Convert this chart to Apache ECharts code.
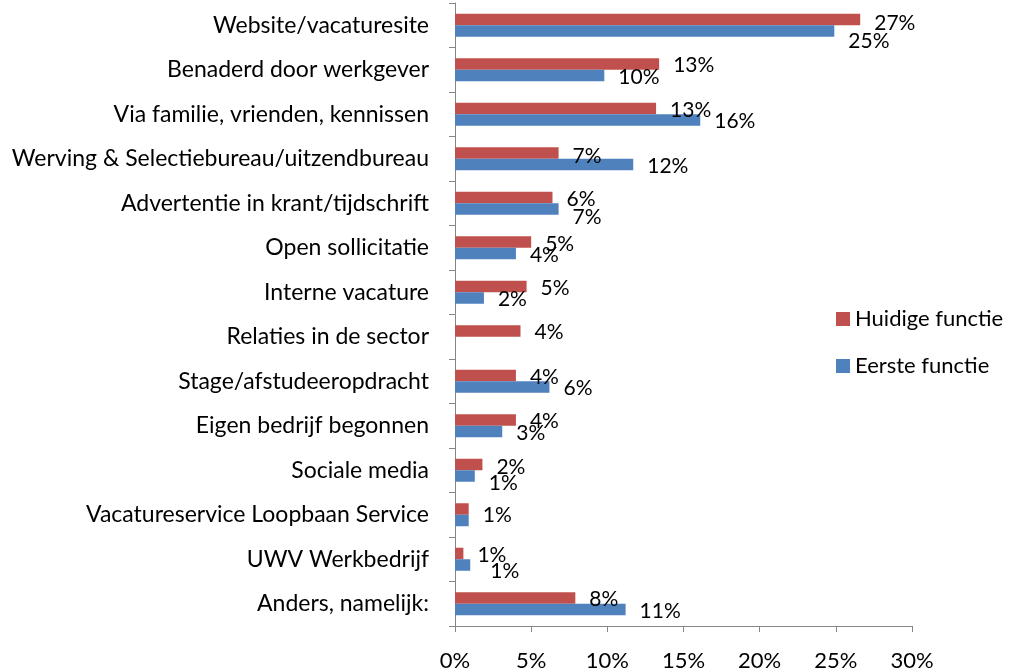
<!DOCTYPE html>
<html>
<head>
<meta charset="utf-8">
<script src="https://cdn.jsdelivr.net/npm/echarts@6/dist/echarts.min.js"></script>
<style>
html,body{margin:0;padding:0;background:#fff;}
#chart{width:1010px;height:672px;}
</style>
</head>
<body>
<div id="chart"></div>
<script>
var categories = [
  'Website/vacaturesite',
  'Benaderd door werkgever',
  'Via familie, vrienden, kennissen',
  'Werving & Selectiebureau/uitzendbureau',
  'Advertentie in krant/tijdschrift',
  'Open sollicitatie',
  'Interne vacature',
  'Relaties in de sector',
  'Stage/afstudeeropdracht',
  'Eigen bedrijf begonnen',
  'Sociale media',
  'Vacatureservice Loopbaan Service',
  'UWV Werkbedrijf',
  'Anders, namelijk:'
];
var seriesNames = ['Huidige functie', 'Eerste functie'];
var huidige = [26.6, 13.4, 13.2, 6.8, 6.4, 5.0, 4.7, 4.3, 4.0, 4.0, 1.8, 0.9, 0.55, 7.9];
var eerste  = [24.9, 9.8, 16.1, 11.7, 6.8, 4.0, 1.9, 0, 6.2, 3.1, 1.3, 0.9, 1.0, 11.2];
var xTicks = [0, 5, 10, 15, 20, 25, 30];

// label nudges (styling only): [dx, dy] per category index
var nudgeRed = {0:[0,3.5], 3:[0,3], 5:[0,2.5], 10:[0,2.5], 11:[0,7]};
var nudgeBlue = {0:[0,10], 4:[0,8], 10:[0,7], 11:[0,-5.5], 12:[6,6]};
var hideRed = {11: true};

var FONT = 'Lato';
var colors = ['#C0504D', '#4F81BD'];

function build(vals, nudge, hide) {
  return vals.map(function (v, i) {
    var off = nudge[i] || [0, 1.5];
    return { value: v, label: { show: v > 0 && !(hide && hide[i]), offset: off } };
  });
}

var chart = echarts.init(document.getElementById('chart'), null, {renderer: 'canvas'});
var labelStyle = {
  show: true,
  position: 'right',
  distance: 14,
  fontFamily: FONT,
  fontSize: 21,
  color: '#000',
  formatter: function (p) { return Math.round(p.value) + '%'; }
};
chart.setOption({
  animation: false,
  backgroundColor: '#fff',
  textStyle: { fontFamily: FONT },
  grid: { left: 455, right: 98, top: 3, bottom: 43, containLabel: false },
  legend: {
    orient: 'vertical',
    left: 831,
    top: 302,
    itemWidth: 14,
    itemHeight: 14,
    itemGap: 23,
    icon: 'rect',
    data: seriesNames,
    textStyle: { fontFamily: FONT, fontSize: 22, color: '#000', lineHeight: 24 }
  },
  xAxis: {
    type: 'value',
    min: xTicks[0],
    max: xTicks[xTicks.length - 1],
    interval: xTicks[1] - xTicks[0],
    axisLine: { show: true, lineStyle: { color: '#868686', width: 1 } },
    axisTick: { show: true, length: 6, lineStyle: { color: '#868686' } },
    splitLine: { show: false },
    axisLabel: { fontFamily: FONT, fontSize: 22, color: '#000', margin: 24, formatter: '{value}%' }
  },
  yAxis: {
    type: 'category',
    inverse: true,
    data: categories,
    axisLine: { show: true, lineStyle: { color: '#868686', width: 1 } },
    axisTick: { show: true, length: 6, alignWithLabel: false, lineStyle: { color: '#868686' } },
    axisLabel: { fontFamily: FONT, fontSize: 23, color: '#000', margin: 26 }
  },
  series: [
    {
      name: seriesNames[0], type: 'bar', barWidth: 11.5, barGap: '0%',
      itemStyle: { color: colors[0] },
      label: labelStyle,
      data: build(huidige, nudgeRed, hideRed)
    },
    {
      name: seriesNames[1], type: 'bar', barWidth: 11.5, barGap: '0%',
      itemStyle: { color: colors[1] },
      label: labelStyle,
      data: build(eerste, nudgeBlue)
    }
  ]
});
</script>
</body>
</html>
